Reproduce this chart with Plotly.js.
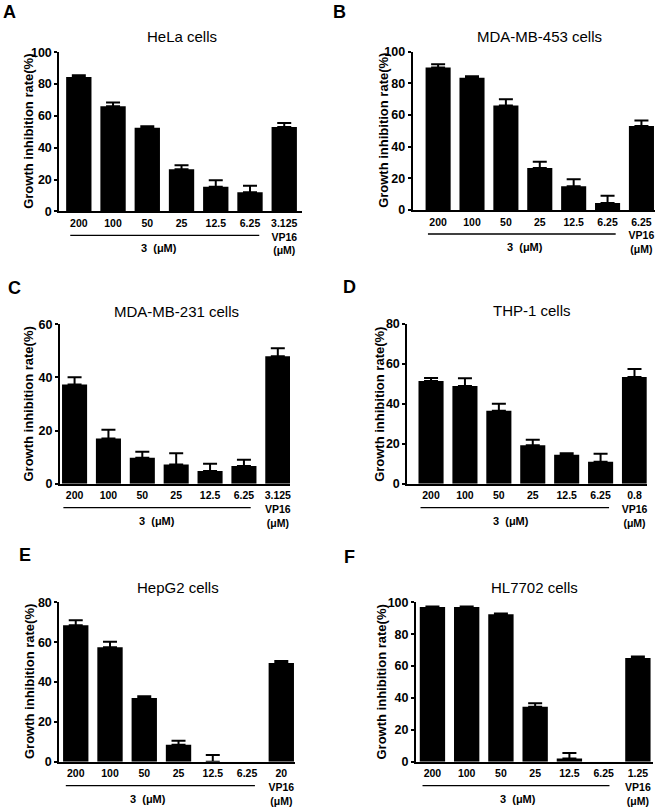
<!DOCTYPE html>
<html>
<head>
<meta charset="utf-8">
<script src="https://cdn.plot.ly/plotly-3.0.1.min.js"></script>
<style>html,body{margin:0;padding:0;background:#fff;}#chart{width:661px;height:809px;}</style>
</head>
<body>
<div id="chart"></div>
<script>
// ---- data ----
const concentrations = ['200', '100', '50', '25', '12.5', '6.25'];
const vp16Doses = ['3.125', '6.25', '3.125', '0.8', '20', '1.25'];
const cellLines = ['HeLa cells', 'MDA-MB-453 cells', 'MDA-MB-231 cells', 'THP-1 cells', 'HepG2 cells', 'HL7702 cells'];
const panelLetters = ['A', 'B', 'C', 'D', 'E', 'F'];
const yMax = [100, 100, 60, 80, 80, 100];

const helaValues = [84.5, 66, 52.5, 26.5, 15.5, 12, 53];
const helaErrors = [1, 2.5, 1, 2.5, 4, 4, 2.5];
const mda453Values = [90, 83.5, 66, 26.5, 15, 4.5, 53];
const mda453Errors = [2, 1, 4, 4, 4.5, 4.5, 3.5];
const mda231Values = [37.3, 17, 9.8, 7.2, 4.8, 6.7, 48];
const mda231Errors = [2.8, 3.3, 2.2, 4.3, 2.7, 2.3, 3];
const thp1Values = [51.5, 49, 36.5, 19.2, 14.5, 11, 53.5];
const thp1Errors = [1.5, 3.8, 3.5, 2.8, 0.8, 4, 4];
const hepg2Values = [68.5, 57.5, 32, 8.5, 0, null, 49.5];
const hepg2Errors = [2.5, 2.7, 0.8, 2, 3.3, 0, 1];
const hl7702Values = [97, 97, 92.5, 34.5, 2, null, 65];
const hl7702Errors = [0.3, 0.3, 0.5, 2.2, 3.5, 0, 1];

const seriesValues = [helaValues, mda453Values, mda231Values, thp1Values, hepg2Values, hl7702Values];
const seriesErrors = [helaErrors, mda453Errors, mda231Errors, thp1Errors, hepg2Errors, hl7702Errors];

// ---- layout geometry (pixels) ----
const W = 661, H = 809;
const geo = [
  {x0: 59.3, x1: 301.7, y0: 52.3, y1: 211.3, range: [-0.57, 6.51], title: [181.7, 36.7], letter: [9.7, 11.7], ytitle: 29, ul: [-0.25, 5.27], lbl: 2.35},
  {x0: 412.7, x1: 655, y0: 51.7, y1: 210, range: [-0.75, 6.4], title: [539, 36.7], letter: [339.7, 11.7], ytitle: 384, ul: [-0.3, 5.24], lbl: 2.57},
  {x0: 60, x1: 290, y0: 324.3, y1: 483.7, range: [-0.43, 6.36], title: [176, 311.7], letter: [14.5, 288.3], ytitle: 27.5, ul: [-0.33, 5.2], lbl: 2.42},
  {x0: 407.3, x1: 646.7, y0: 324, y1: 483.7, range: [-0.7, 6.36], title: [532, 310.7], letter: [349, 287.3], ytitle: 380, ul: [-0.31, 5.25], lbl: 2.37},
  {x0: 59.3, x1: 295, y0: 602.3, y1: 761.7, range: [-0.48, 6.4], title: [178.3, 587.7], letter: [25, 555], ytitle: 29, ul: [-0.29, 5.23], lbl: 2.1},
  {x0: 416, x1: 653.3, y0: 602.3, y1: 761.7, range: [-0.48, 6.45], title: [534.7, 587.7], letter: [349, 556.5], ytitle: 380.5, ul: [-0.29, 5.17], lbl: 2.51}
];
const px = v => v / W;
const py = v => 1 - v / H;

const FONT = 'Arial, "Liberation Sans", sans-serif';
const traces = [];
const layout = {
  width: W, height: H,
  margin: {l: 0, r: 0, t: 0, b: 0},
  paper_bgcolor: '#fff', plot_bgcolor: '#fff',
  showlegend: false,
  font: {family: FONT, color: '#000'},
  annotations: [], shapes: []
};

for (let i = 0; i < 6; i++) {
  const g = geo[i];
  const n = i === 0 ? '' : String(i + 1);
  const cats = concentrations.concat([vp16Doses[i] + '<br>VP16<br>(μM)']);
  traces.push({
    type: 'bar',
    x: cats,
    y: seriesValues[i],
    xaxis: 'x' + n, yaxis: 'y' + n,
    width: 0.74,
    marker: {color: '#000', line: {width: 0}},
    error_y: {type: 'data', symmetric: false, array: seriesErrors[i], arrayminus: seriesErrors[i].map(() => 0),
      color: '#000', thickness: 2, width: 7},
    hoverinfo: 'skip'
  });
  layout['xaxis' + n] = {
    domain: [px(g.x0), px(g.x1)], anchor: 'y' + n,
    type: 'category', categoryorder: 'array', categoryarray: cats, range: g.range,
    showline: true, linecolor: '#000', linewidth: 2,
    ticks: 'outside', ticklen: 1, tickcolor: 'rgba(0,0,0,0)',
    showgrid: false, zeroline: false,
    tickfont: {family: FONT, size: 10.5, color: '#000', weight: 'bold'},
    tickangle: 0, fixedrange: true
  };
  layout['yaxis' + n] = {
    domain: [py(g.y1), py(g.y0)], anchor: 'x' + n,
    range: [0, yMax[i]], dtick: 20, tick0: 0,
    showline: true, linecolor: '#000', linewidth: 2,
    ticks: 'outside', ticklen: 3, tickwidth: 2, tickcolor: '#000',
    showgrid: false, zeroline: false,
    tickfont: {family: FONT, size: 12.5, color: '#000', weight: 'bold'},
    fixedrange: true
  };
  // panel title
  layout.annotations.push({text: cellLines[i], xref: 'paper', yref: 'paper', x: px(g.title[0]), y: py(g.title[1]),
    xanchor: 'center', yanchor: 'middle', showarrow: false, font: {family: FONT, size: 15, color: '#000'}});
  // panel letter
  layout.annotations.push({text: '<b>' + panelLetters[i] + '</b>', xref: 'paper', yref: 'paper', x: px(g.letter[0]), y: py(g.letter[1]),
    xanchor: 'center', yanchor: 'middle', showarrow: false, font: {family: FONT, size: 18, color: '#000'}});
  // y title
  layout.annotations.push({text: '<b>Growth inhibition rate(%)</b>', xref: 'paper', yref: 'paper', x: px(g.ytitle), y: py((g.y0 + g.y1) / 2),
    xanchor: 'center', yanchor: 'middle', textangle: -90, showarrow: false, font: {family: FONT, size: 13, color: '#000'}});
  // compound label
  layout.annotations.push({text: '<b>3\u00a0 (μM)</b>', xref: 'x' + n, yref: 'paper', x: g.lbl, y: py(g.y1 + 37),
    xanchor: 'center', yanchor: 'middle', showarrow: false, font: {family: FONT, size: 11, color: '#000'}});
  // underline
  layout.shapes.push({type: 'line', xref: 'x' + n, yref: 'paper', x0: g.ul[0], x1: g.ul[1], y0: py(g.y1 + 24), y1: py(g.y1 + 24),
    line: {color: '#000', width: 1.3}});
}

Plotly.newPlot('chart', traces, layout, {staticPlot: true, displayModeBar: false});
</script>
</body>
</html>
